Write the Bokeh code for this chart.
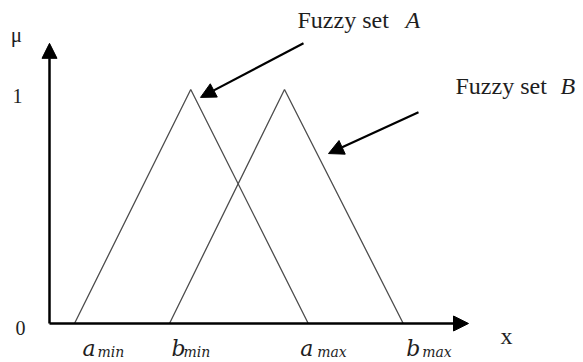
from bokeh.plotting import figure
from bokeh.models import Arrow, NormalHead, Range1d
from bokeh.core.properties import value
from bokeh.embed import file_html
from bokeh.resources import INLINE

# data (x in arbitrary units, membership in [0, 1])
set_a_x = [1.0, 5.65, 10.35]
set_b_x = [4.8, 9.4, 14.15]
mu = [0.0, 1.0, 0.0]
x_axis_end = 16.76
y_axis_end = 1.197
tick_labels_y = ["0", "1"]
names = ["Fuzzy set", "Fuzzy set"]
name_letters = ["A", "B"]

W, H = 583, 362
p = figure(width=W, height=H, output_backend="svg", toolbar_location=None,
           x_range=Range1d(-1.96, 21.36), y_range=Range1d(-0.1667, 1.380),
           min_border=0, outline_line_color=None)
p.axis.visible = False
p.grid.visible = False
p.background_fill_color = "white"

line_col = "#4d4d4d"
p.line(set_a_x, mu, line_color=line_col, line_width=1.3)
p.line(set_b_x, mu, line_color=line_col, line_width=1.3)

# axes with arrow heads
p.add_layout(Arrow(end=NormalHead(size=15, fill_color="black", line_color="black"),
                   x_start=0, y_start=0, x_end=x_axis_end, y_end=0,
                   line_width=2.5, line_color="black"))
p.add_layout(Arrow(end=NormalHead(size=15, fill_color="black", line_color="black"),
                   x_start=0, y_start=0, x_end=0, y_end=y_axis_end,
                   line_width=2.5, line_color="black"))

serif = value("Liberation Serif")
math = value("DejaVu Serif")
txt_col = "#1e1e1e"
dy = 0.032  # baseline correction

# y tick labels and axis names
p.text(x=[-1.16, -1.28], y=[-0.051 + dy, 0.94 + dy], text=tick_labels_y, text_font=serif,
       text_font_size="20px", text_align="center", text_baseline="alphabetic", text_color=txt_col)
p.text(x=[-1.32], y=[1.20 + dy], text=["μ"], text_font=serif, text_font_size="21px",
       text_align="center", text_baseline="alphabetic", text_color=txt_col)
p.text(x=[18.28], y=[-0.085 + dy], text=["x"], text_font=serif, text_font_size="24px",
       text_align="center", text_baseline="alphabetic", text_color=txt_col)

# x labels: a_min, b_min, a_max, b_max
main_letters = ["a", "b", "a", "b"]
subs = ["min", "min", "max", "max"]
pos_x = [set_a_x[0], set_b_x[0], set_a_x[2], set_b_x[2]]
main_off = [0.32, 0.08, -0.32, 0.12]
sub_off = [0.92, 0.56, 0.36, 0.76]
p.text(x=[px + o for px, o in zip(pos_x, main_off)], y=[-0.137 + dy] * 4, text=main_letters,
       text_font=math, text_font_style="italic", text_font_size="22px",
       text_align="left", text_baseline="alphabetic", text_color=txt_col)
p.text(x=[px + o for px, o in zip(pos_x, sub_off)], y=[-0.154 + dy] * 4, text=subs,
       text_font=math, text_font_style="italic", text_font_size="14px",
       text_align="left", text_baseline="alphabetic", text_color=txt_col)

# annotations
p.text(x=[9.92, 16.24], y=[1.265 + dy, 0.983 + dy], text=names, text_font=serif,
       text_font_size="24px", text_align="left", text_baseline="alphabetic", text_color=txt_col)
p.text(x=[14.24, 20.44], y=[1.265 + dy, 0.983 + dy], text=name_letters, text_font=serif,
       text_font_style="italic", text_font_size="24px", text_align="left",
       text_baseline="alphabetic", text_color=txt_col)
p.add_layout(Arrow(end=NormalHead(size=15, fill_color="black", line_color="black"),
                   x_start=10.16, y_start=1.197, x_end=6.04, y_end=0.966,
                   line_width=2.2, line_color="black"))
p.add_layout(Arrow(end=NormalHead(size=15, fill_color="black", line_color="black"),
                   x_start=14.76, y_start=0.902, x_end=11.16, y_end=0.726,
                   line_width=2.2, line_color="black"))

open("out.html", "w").write(file_html(p, INLINE))
